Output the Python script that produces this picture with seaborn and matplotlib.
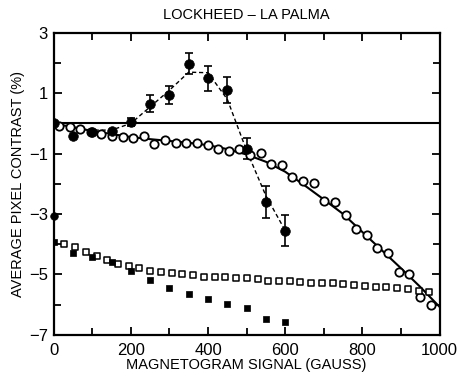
import numpy as np
import pandas as pd
import matplotlib
matplotlib.use("Agg")
import matplotlib.pyplot as plt
import seaborn as sns
from matplotlib.ticker import MultipleLocator

# ---- data ----
# filled circles with error bars
fc_x = [0, 50, 100, 150, 200, 250, 300, 350, 400, 450, 500, 550, 600]
fc_y = [0.0, -0.42, -0.28, -0.25, 0.05, 0.66, 0.93, 1.98, 1.49, 1.1, -0.83, -2.6, -3.55]
fc_err = [0.0, 0.0, 0.0, 0.0, 0.14, 0.28, 0.3, 0.34, 0.4, 0.43, 0.35, 0.52, 0.51]
# dashed trend through filled circles
dash_x = [0, 50, 100, 150, 200, 250, 300, 350, 400, 450, 500, 550, 600]
dash_y = [0.0, -0.15, -0.22, -0.22, 0.0, 0.55, 1.1, 1.7, 1.68, 0.8, -0.9, -2.4, -3.55]

# open circles
oc_x = [13.75 + 27.5 * k for k in range(36)]
oc_y = [-0.09, -0.13, -0.17, -0.28, -0.36, -0.40, -0.45, -0.48, -0.42, -0.69,
        -0.55, -0.66, -0.66, -0.66, -0.70, -0.83, -0.90, -0.83, -1.05, -0.98,
        -1.34, -1.37, -1.77, -1.92, -1.98, -2.57, -2.60, -3.02, -3.50, -3.71,
        -4.14, -4.30, -4.91, -5.00, -5.75, -6.02]
# solid fit curve through open circles
fit_x = [0, 50, 100, 150, 200, 250, 300, 350, 400, 450, 500, 550, 600, 650,
         700, 750, 800, 850, 900, 950, 1000]
fit_y = [0.0, -0.12, -0.25, -0.35, -0.45, -0.52, -0.58, -0.64, -0.72, -0.85,
         -1.03, -1.27, -1.60, -2.05, -2.52, -3.0, -3.6, -4.2, -4.8, -5.42, -6.08]

# open squares
os_x = [27.8 * k for k in range(1, 36)]
os_y = [-4.00, -4.08, -4.25, -4.38, -4.53, -4.64, -4.71, -4.80, -4.88, -4.93,
        -4.97, -4.99, -5.02, -5.08, -5.08, -5.10, -5.13, -5.13, -5.17, -5.21,
        -5.21, -5.21, -5.24, -5.28, -5.30, -5.30, -5.32, -5.35, -5.39, -5.41,
        -5.43, -5.46, -5.50, -5.54, -5.58]

# filled squares
fs_x = [0, 50, 100, 150, 200, 250, 300, 350, 400, 450, 500, 550, 600]
fs_y = [-3.94, -4.30, -4.44, -4.60, -4.88, -5.19, -5.44, -5.65, -5.83, -5.98,
        -6.13, -6.48, -6.57]

# lone filled circle on the axis
ref_x = [0]
ref_y = [-3.05]

title = "LOCKHEED \u2013 LA PALMA"
xlabel = "MAGNETOGRAM SIGNAL (GAUSS)"
ylabel = "AVERAGE PIXEL CONTRAST (%)"
xticks = [0, 200, 400, 600, 800, 1000]
yticks = [3, 1, -1, -3, -5, -7]
yticklabels = ["3", "1", "\u22121", "\u22123", "\u22125", "\u22127"]

# ---- plotting ----
sns.set_style("ticks")
plt.rcParams['font.family'] = ['Liberation Sans', 'DejaVu Sans']
plt.rcParams['text.color'] = 'black'
plt.rcParams['axes.labelcolor'] = 'black'
plt.rcParams['xtick.color'] = 'black'
plt.rcParams['ytick.color'] = 'black'

fig = plt.figure(figsize=(4.58, 3.74), dpi=100)
ax = fig.add_axes([0.117, 0.105, 0.843, 0.807])

ax.axhline(0, color="black", lw=1.5, zorder=1)

sns.lineplot(x=fit_x, y=fit_y, ax=ax, color="black", lw=1.5, zorder=2)
sns.lineplot(x=dash_x, y=dash_y, ax=ax, color="black", lw=1.0,
             linestyle=(0, (3, 2)), zorder=2)

ax.errorbar(fc_x, fc_y, yerr=fc_err, fmt="none", ecolor="black",
            elinewidth=1.2, capsize=3, capthick=1.2, zorder=3)

sns.scatterplot(x=oc_x, y=oc_y, ax=ax, marker="o", s=36,
                facecolor="white", edgecolor="black", linewidth=1.3, zorder=4)
sns.scatterplot(x=fc_x, y=fc_y, ax=ax, marker="o", s=48,
                color="black", edgecolor="black", linewidth=0.5, zorder=5)
sns.scatterplot(x=os_x, y=os_y, ax=ax, marker="s", s=16,
                facecolor="white", edgecolor="black", linewidth=1.1, zorder=4)
sns.scatterplot(x=fs_x, y=fs_y, ax=ax, marker="s", s=24,
                color="black", edgecolor="black", linewidth=0.5, zorder=5)
sns.scatterplot(x=ref_x, y=ref_y, ax=ax, marker="o", s=30,
                color="black", edgecolor="black", linewidth=0.5, zorder=5,
                clip_on=False)

ax.set_xlim(0, 1000)
ax.set_ylim(-7, 3)
ax.set_xticks(xticks)
ax.set_yticks(yticks)
ax.set_yticklabels(yticklabels)
ax.xaxis.set_minor_locator(MultipleLocator(100))
ax.yaxis.set_minor_locator(MultipleLocator(1))
ax.tick_params(which="both", direction="in", top=True, right=True,
               width=1.3, labelsize=12)
ax.tick_params(which="major", length=6)
ax.tick_params(axis="x", which="major", pad=6)
ax.tick_params(axis="y", which="major", pad=4)
ax.tick_params(which="minor", length=5)
for sp in ax.spines.values():
    sp.set_linewidth(1.6)
    sp.set_visible(True)
    sp.set_color("black")

ax.set_xlabel(xlabel, fontsize=10.5, labelpad=0)
ax.set_ylabel(ylabel, fontsize=10.5, labelpad=3)
ax.set_title(title, fontsize=10.5, pad=10)

fig.savefig("out.png", dpi=100)
